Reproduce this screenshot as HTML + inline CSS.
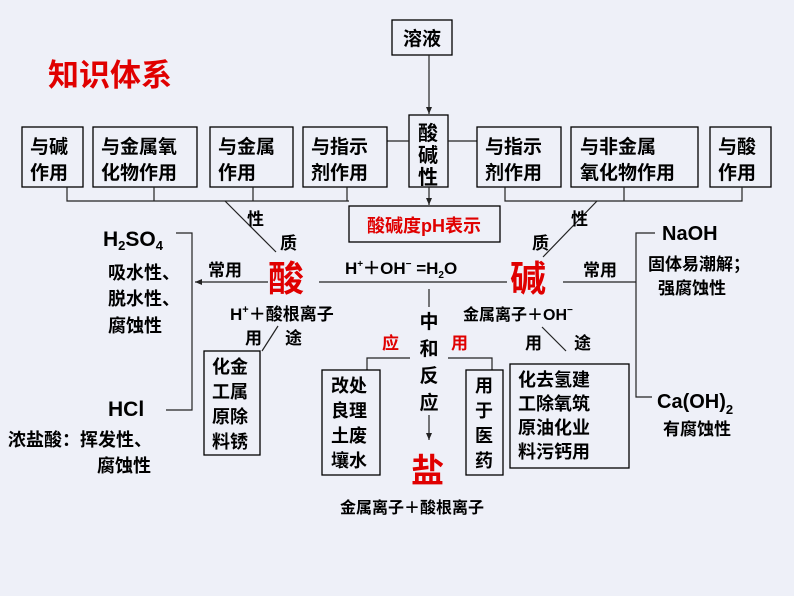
<!DOCTYPE html>
<html><head><meta charset="utf-8"><style>
html,body{margin:0;padding:0;background:#eef0f8;}
svg{display:block;}
text{font-family:"Liberation Sans","Noto Sans CJK SC",sans-serif;font-weight:bold;fill:#000;}
.r{fill:#e00000;}
.b{fill:none;stroke:#000;stroke-width:1.3;}
.l{stroke:#222;stroke-width:1.2;fill:none;}
.c{font-family:"Liberation Sans Narrow","Liberation Sans",sans-serif;}
</style></head><body>
<svg width="794" height="596" viewBox="0 0 794 596" xmlns="http://www.w3.org/2000/svg">
<defs><marker id="a" markerWidth="8" markerHeight="8" refX="7" refY="4" orient="auto" markerUnits="userSpaceOnUse"><path d="M0,1 L7,4 L0,7 z" fill="#222"/></marker></defs>
<rect width="794" height="596" fill="#eef0f8"/>
<text x="48" y="86" class="r" font-size="31">知识体系</text>

<rect x="392" y="20" width="60" height="35" class="b"/>
<text x="422" y="45" font-size="19" text-anchor="middle">溶液</text>
<line x1="429" y1="55" x2="429" y2="114" class="l" marker-end="url(#a)"/>
<rect x="409" y="115" width="39" height="72" class="b"/>
<text x="428" y="140" font-size="20" text-anchor="middle">酸</text>
<text x="428" y="162" font-size="20" text-anchor="middle">碱</text>
<text x="428" y="184" font-size="20" text-anchor="middle">性</text>
<line x1="387" y1="141" x2="409" y2="141" class="l"/>
<line x1="448" y1="141" x2="477" y2="141" class="l"/>
<line x1="429" y1="187" x2="429" y2="205" class="l" marker-end="url(#a)"/>

<g font-size="19">
<rect x="22" y="127" width="61" height="60" class="b"/><text x="30" y="153">与碱</text><text x="30" y="179">作用</text>
<rect x="93" y="127" width="104" height="60" class="b"/><text x="101" y="153">与金属氧</text><text x="101" y="179">化物作用</text>
<rect x="210" y="127" width="83" height="60" class="b"/><text x="218" y="153">与金属</text><text x="218" y="179">作用</text>
<rect x="303" y="127" width="84" height="60" class="b"/><text x="311" y="153">与指示</text><text x="311" y="179">剂作用</text>
<rect x="477" y="127" width="84" height="60" class="b"/><text x="485" y="153">与指示</text><text x="485" y="179">剂作用</text>
<rect x="571" y="127" width="127" height="60" class="b"/><text x="580" y="153">与非金属</text><text x="580" y="179">氧化物作用</text>
<rect x="710" y="127" width="61" height="60" class="b"/><text x="718" y="153">与酸</text><text x="718" y="179">作用</text>
</g>
<path d="M67,187V201H349 M154,187V201 M253,187V201 M347,187V201" class="l"/>
<path d="M505,187V201H742V187 M624,187V201" class="l"/>

<rect x="349" y="206" width="151" height="36" class="b"/>
<text x="424" y="232" font-size="18" class="r" text-anchor="middle">酸碱度pH表示</text>

<line x1="225" y1="201" x2="276" y2="252" class="l"/>
<text x="247" y="225" font-size="17">性</text>
<text x="280" y="249" font-size="17">质</text>
<line x1="597" y1="201" x2="543" y2="257" class="l"/>
<text x="571" y="225" font-size="17">性</text>
<text x="532" y="249" font-size="17">质</text>

<text x="268" y="291" font-size="36" class="r">酸</text>
<text x="510" y="291" font-size="36" class="r">碱</text>
<line x1="319" y1="282" x2="507" y2="282" class="l"/>
<text x="345" y="274" font-size="17" class="c">H<tspan font-size="10" dy="-7">+</tspan><tspan dy="7">＋OH</tspan><tspan font-size="10" dy="-7">−</tspan><tspan dy="7"> =H</tspan><tspan font-size="10" dy="4">2</tspan><tspan dy="-4">O</tspan></text>

<text x="208" y="276" font-size="17">常用</text>
<line x1="268" y1="282" x2="195" y2="282" class="l" marker-end="url(#a)"/>
<path d="M176,233H192V410H166" class="l" stroke="#2a6a70"/>
<text x="103" y="246" font-size="21" class="c">H<tspan font-size="13" dy="4">2</tspan><tspan dy="-4">SO</tspan><tspan font-size="13" dy="4">4</tspan></text>
<g font-size="18">
<text x="108" y="279">吸水性、</text>
<text x="108" y="305">脱水性、</text>
<text x="108" y="332">腐蚀性</text>
<text x="108" y="416" font-size="21" class="c">HCl</text>
<text x="8" y="446">浓盐酸：挥发性、</text>
<text x="97" y="472">腐蚀性</text>
</g>

<text x="230" y="320" font-size="17">H<tspan font-size="11" dy="-7">+</tspan><tspan dy="7">＋酸根离子</tspan></text>
<text x="245" y="344" font-size="17">用</text>
<text x="285" y="344" font-size="17">途</text>
<line x1="278" y1="326" x2="262" y2="351" class="l"/>
<rect x="204" y="351" width="56" height="104" class="b"/>
<g font-size="18"><text x="212" y="373">化金</text><text x="212" y="398">工属</text><text x="212" y="423">原除</text><text x="212" y="448">料锈</text></g>

<line x1="429" y1="289" x2="429" y2="307" class="l"/>
<g font-size="19" text-anchor="middle"><text x="429" y="328">中</text><text x="429" y="355">和</text><text x="429" y="382">反</text><text x="429" y="409">应</text></g>
<line x1="429" y1="415" x2="429" y2="440" class="l" marker-end="url(#a)"/>
<text x="382" y="349" font-size="17" class="r">应</text>
<text x="451" y="349" font-size="17" class="r">用</text>
<path d="M410,358H367V370" class="l"/>
<path d="M448,358H492V370" class="l"/>
<rect x="322" y="370" width="58" height="105" class="b"/>
<g font-size="18"><text x="331" y="392">改处</text><text x="331" y="417">良理</text><text x="331" y="442">土废</text><text x="331" y="467">壤水</text></g>
<rect x="466" y="370" width="37" height="105" class="b"/>
<g font-size="18" text-anchor="middle"><text x="484" y="392">用</text><text x="484" y="417">于</text><text x="484" y="442">医</text><text x="484" y="467">药</text></g>

<text x="411" y="482" font-size="33" class="r">盐</text>
<text x="340" y="513" font-size="16">金属离子＋酸根离子</text>

<text x="463" y="320" font-size="16">金属离子＋OH<tspan font-size="10" dy="-7">−</tspan></text>
<text x="525" y="349" font-size="17">用</text>
<text x="574" y="349" font-size="17">途</text>
<line x1="542" y1="327" x2="566" y2="351" class="l"/>
<rect x="510" y="364" width="119" height="104" class="b"/>
<g font-size="18"><text x="518" y="386">化去氢建</text><text x="518" y="410">工除氧筑</text><text x="518" y="434">原油化业</text><text x="518" y="458">料污钙用</text></g>

<text x="583" y="276" font-size="17">常用</text>
<line x1="563" y1="282" x2="636" y2="282" class="l"/>
<path d="M655,233H636V397H652" class="l" stroke="#2a6a70"/>
<text x="662" y="240" font-size="20" class="c">NaOH</text>
<text x="648" y="270" font-size="17">固体易潮解；</text>
<text x="658" y="294" font-size="17">强腐蚀性</text>
<text x="657" y="408" font-size="20" class="c">Ca(OH)<tspan font-size="13" dy="6">2</tspan></text>
<text x="663" y="435" font-size="17">有腐蚀性</text>
</svg>
</body></html>
